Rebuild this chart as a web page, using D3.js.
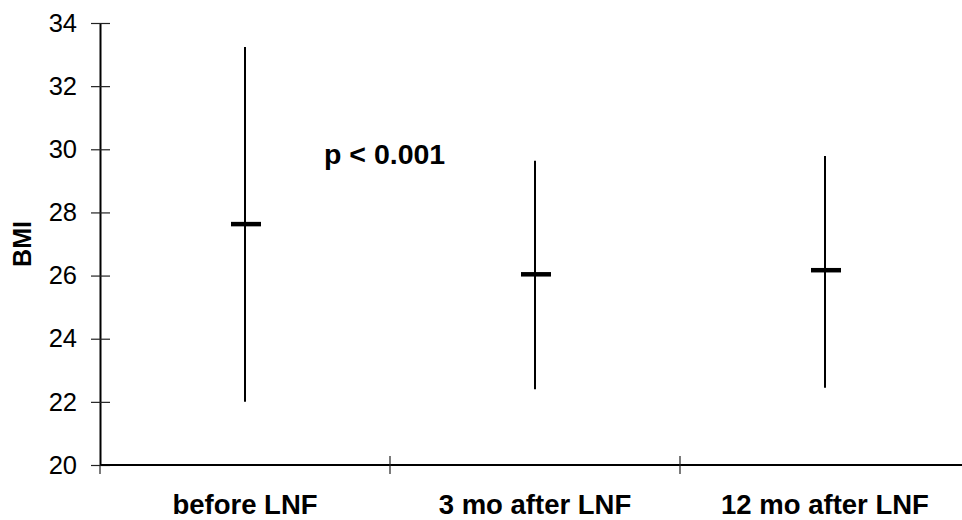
<!DOCTYPE html>
<html>
<head>
<meta charset="utf-8">
<script src="https://cdn.jsdelivr.net/npm/d3@7"></script>
<style>
body { margin: 0; background: #fff; }
svg { display: block; font-family: "Liberation Sans", Arial, sans-serif; }
</style>
</head>
<body>
<script>
const categories = ['before LNF', '3 mo after LNF', '12 mo after LNF'];
const means = [27.63, 26.04, 26.17];
const highs = [33.24, 29.64, 29.79];
const lows = [22.0, 22.4, 22.45];
const yTicks = [20, 22, 24, 26, 28, 30, 32, 34];
const annotation = 'p < 0.001';

const chartWidth = 962, chartHeight = 520;
const plotLeft = 100, plotTop = 23, plotBottom = 465;
const bandW = 290;

const chart = d3.select('body').append('svg')
    .attr('width', chartWidth)
    .attr('height', chartHeight);

const x = d3.scaleBand()
    .domain(categories)
    .range([plotLeft, plotLeft + bandW * categories.length])
    .padding(0);
const y = d3.scaleLinear()
    .domain([20, 34])
    .range([plotBottom, plotTop]);

// y axis
const yAxis = chart.append('g')
    .attr('transform', `translate(${plotLeft},0)`)
    .call(d3.axisLeft(y).tickValues(yTicks).tickSize(9).tickPadding(14).tickSizeOuter(0));
yAxis.select('.domain').attr('stroke', '#000').attr('stroke-width', 2);
yAxis.selectAll('.tick line').attr('x2', 10).attr('x1', -9).attr('stroke', '#222').attr('stroke-width', 1.2);
yAxis.selectAll('.tick text')
    .attr('font-size', 25.5)
    .attr('fill', '#000')
    .attr('font-family', '"Liberation Sans", Arial, sans-serif');

// x axis
chart.append('line')
    .attr('x1', plotLeft).attr('x2', chartWidth)
    .attr('y1', plotBottom).attr('y2', plotBottom)
    .attr('stroke', '#000').attr('stroke-width', 2);
const bounds = categories.map(c => x(c)).concat([x(categories[categories.length - 1]) + x.bandwidth()]);
chart.selectAll('.xtick')
    .data(bounds)
    .enter().append('line')
    .attr('x1', d => d).attr('x2', d => d)
    .attr('y1', (d, i) => i === 0 ? plotBottom : plotBottom - 9)
    .attr('y2', plotBottom + 9)
    .attr('stroke', '#222').attr('stroke-width', 1.2);
chart.selectAll('.xlabel')
    .data(categories)
    .enter().append('text')
    .attr('x', d => x(d) + x.bandwidth() / 2)
    .attr('y', 514)
    .attr('text-anchor', 'middle')
    .attr('font-size', 27.5)
    .attr('font-weight', 'bold')
    .text(d => d);

// whiskers
chart.selectAll('.range')
    .data(categories)
    .enter().append('line')
    .attr('x1', d => x(d) + x.bandwidth() / 2)
    .attr('x2', d => x(d) + x.bandwidth() / 2)
    .attr('y1', (d, i) => y(highs[i]))
    .attr('y2', (d, i) => y(lows[i]))
    .attr('stroke', '#000').attr('stroke-width', 2);

// means
chart.selectAll('.mean')
    .data(categories)
    .enter().append('line')
    .attr('x1', d => x(d) + x.bandwidth() / 2 - 14)
    .attr('x2', d => x(d) + x.bandwidth() / 2 + 16)
    .attr('y1', (d, i) => y(means[i]))
    .attr('y2', (d, i) => y(means[i]))
    .attr('stroke', '#000').attr('stroke-width', 4.5);

// labels
chart.append('text')
    .attr('transform', `translate(31,${(plotTop + plotBottom) / 2}) rotate(-90)`)
    .attr('text-anchor', 'middle')
    .attr('font-size', 25)
    .attr('font-weight', 'bold')
    .text('BMI');
chart.append('text')
    .attr('x', 324).attr('y', 164)
    .attr('font-size', 28.5)
    .attr('font-weight', 'bold')
    .text(annotation);
</script>
</body>
</html>
